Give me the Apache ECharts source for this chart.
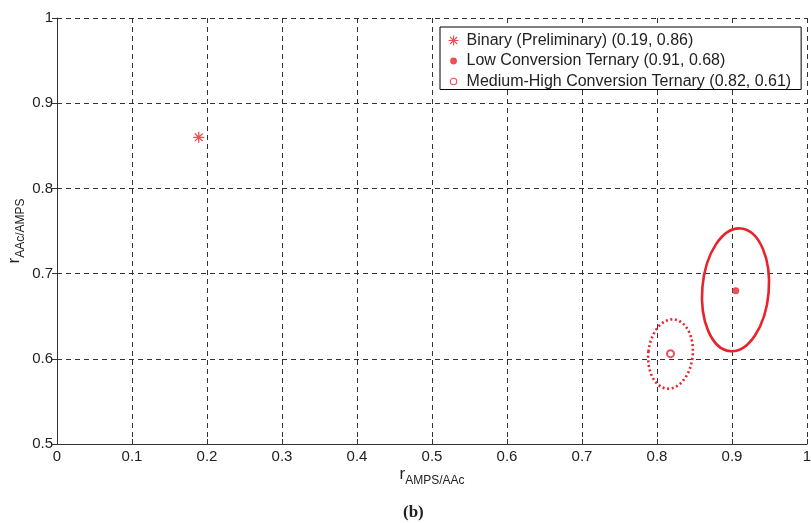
<!DOCTYPE html>
<html>
<head>
<meta charset="utf-8">
<script src="https://cdn.jsdelivr.net/npm/echarts@6/dist/echarts.min.js"></script>
<style>
html,body{margin:0;padding:0;background:#fff;}
#chart{width:811px;height:523px;}
</style>
</head>
<body>
<div id="chart"></div>
<script>
// ---- data ----
const seriesNames = [
  'Binary (Preliminary) (0.19, 0.86)',
  'Low Conversion Ternary (0.91, 0.68)',
  'Medium-High Conversion Ternary (0.82, 0.61)'
];
const binaryPoint = [[0.189, 0.860]];
const lowConvPoint = [[0.905, 0.680]];
const medHighPoint = [[0.818, 0.606]];
// confidence regions: [centerX, centerY, semiAxisX, semiAxisY, tiltDeg]
const lowConvRegion = [[0.9047, 0.681, 0.0443, 0.0723, -5]];
const medHighRegion = [[0.818, 0.6056, 0.0296, 0.0408, -6]];
const xRange = [0, 1];
const yRange = [0.5, 1];
const tickStep = 0.1;
const xTitleSub = 'AMPS/AAc';
const yTitleSub = 'AAc/AMPS';
const caption = '(b)';

const RED = '#e8232a';
const FONT = 'Liberation Sans, Arial, sans-serif';

function ellipseRenderer(styleExtra) {
  return function (params, api) {
    const c = api.coord([api.value(0), api.value(1)]);
    const s = api.size([api.value(2), api.value(3)]);
    const rot = api.value(4) * Math.PI / 180;
    return {
      type: 'ellipse',
      x: c[0], y: c[1], rotation: rot,
      shape: { cx: 0, cy: 0, rx: s[0], ry: s[1] },
      style: Object.assign({ fill: 'none', stroke: RED }, styleExtra),
      z2: 1
    };
  };
}

const starPath = 'path://M5,0L5,10M0,5L10,5M1.5,1.5L8.5,8.5M1.5,8.5L8.5,1.5';
// legend icons inside a 10x10 box so they keep their relative sizes
const legendDot = 'path://M0,0M10,10M5,1.6A3.4,3.4,0,1,1,5,8.4A3.4,3.4,0,1,1,5,1.6Z';
const legendRing = 'path://M0,0M10,10M5,1.8A3.2,3.2,0,1,1,5,8.2A3.2,3.2,0,1,1,5,1.8Z';

const chart = echarts.init(document.getElementById('chart'), null, { renderer: 'canvas' });
const gridLine = { show: true, lineStyle: { color: '#333', width: 1, type: [5, 4] } };
const titleRich = {
  r: { fontSize: 17, color: '#222', fontFamily: FONT, verticalAlign: 'top', lineHeight: 20 },
  s: { fontSize: 12, color: '#222', fontFamily: FONT, verticalAlign: 'top', lineHeight: 12, padding: [9, 0, 0, 0] }
};
const option = {
  animation: false,
  backgroundColor: '#fff',
  textStyle: { fontFamily: FONT },
  grid: { left: 57, top: 18, right: 4, bottom: 79, containLabel: false, outerBoundsMode: 'none' },
  legend: {
    orient: 'vertical', left: 440, top: 27,
    padding: [5.5, 10, 0, 8],
    backgroundColor: '#fff', borderColor: '#000', borderWidth: 1, borderRadius: 0,
    itemWidth: 16, itemHeight: 10, itemGap: 4.5,
    textStyle: { fontSize: 16, lineHeight: 16, color: '#222', fontFamily: FONT },
    data: [
      { name: seriesNames[0], icon: starPath,
        itemStyle: { color: 'rgba(0,0,0,0)', borderColor: RED, borderWidth: 1.1 } },
      { name: seriesNames[1], icon: legendDot,
        itemStyle: { color: RED, borderColor: RED, borderWidth: 0 } },
      { name: seriesNames[2], icon: legendRing,
        itemStyle: { color: '#fff', borderColor: RED, borderWidth: 1.1 } }
    ]
  },
  xAxis: [{
    type: 'value', min: xRange[0], max: xRange[1], interval: tickStep,
    axisLine: { show: true, lineStyle: { color: '#333', width: 1 } },
    axisTick: { show: true, inside: true, length: 5, lineStyle: { color: '#333' } },
    axisLabel: { fontSize: 15, color: '#222', margin: 5, fontFamily: FONT },
    splitLine: gridLine,
    name: '{r|r}{s|' + xTitleSub + '}', nameLocation: 'middle', nameGap: 22, nameMoveOverlap: false,
    nameTextStyle: { color: '#222', fontFamily: FONT, rich: titleRich }
  }, {
    type: 'value', position: 'top', min: xRange[0], max: xRange[1], interval: tickStep,
    axisLine: { show: false }, axisLabel: { show: false }, splitLine: { show: false },
    axisTick: { show: true, inside: true, length: 5, lineStyle: { color: '#333' } }
  }],
  yAxis: [{
    type: 'value', min: yRange[0], max: yRange[1], interval: tickStep,
    axisLine: { show: true, lineStyle: { color: '#333', width: 1 } },
    axisTick: { show: true, inside: true, length: 5, lineStyle: { color: '#333' } },
    axisLabel: { fontSize: 15, color: '#222', margin: 4, fontFamily: FONT },
    splitLine: gridLine,
    name: '{r|r}{s|' + yTitleSub + '}', nameLocation: 'middle', nameGap: 31, nameRotate: 90, nameMoveOverlap: false,
    nameTextStyle: { color: '#222', fontFamily: FONT, rich: titleRich }
  }, {
    type: 'value', position: 'right', min: yRange[0], max: yRange[1], interval: tickStep,
    axisLine: { show: false }, axisLabel: { show: false }, splitLine: { show: false },
    axisTick: { show: true, inside: true, length: 5, lineStyle: { color: '#333' } }
  }],
  graphic: [{
    type: 'text', left: 403, top: 504,
    style: { text: caption, font: 'bold 17px "Liberation Serif", "DejaVu Serif", serif', fill: '#222' }
  }],
  series: [
    {
      type: 'custom', name: 'lowRegion', renderItem: ellipseRenderer({ lineWidth: 2.6 }),
      data: lowConvRegion, silent: true, z: 2, clip: false
    },
    {
      type: 'custom', name: 'medRegion', renderItem: ellipseRenderer({ lineWidth: 2.6, lineDash: [2, 2.6] }),
      data: medHighRegion, silent: true, z: 2, clip: false
    },
    {
      type: 'scatter', name: seriesNames[0], data: binaryPoint,
      symbol: starPath, symbolSize: 11,
      itemStyle: { color: 'rgba(0,0,0,0)', borderColor: RED, borderWidth: 1.3 }, z: 5
    },
    {
      type: 'scatter', name: seriesNames[1], data: lowConvPoint,
      symbol: 'circle', symbolSize: 7,
      itemStyle: { color: RED }, z: 5
    },
    {
      type: 'scatter', name: seriesNames[2], data: medHighPoint,
      symbol: 'emptyCircle', symbolSize: 7,
      itemStyle: { color: RED, borderColor: RED, borderWidth: 1.2 }, z: 5
    }
  ]
};
chart.setOption(option);
</script>
</body>
</html>
